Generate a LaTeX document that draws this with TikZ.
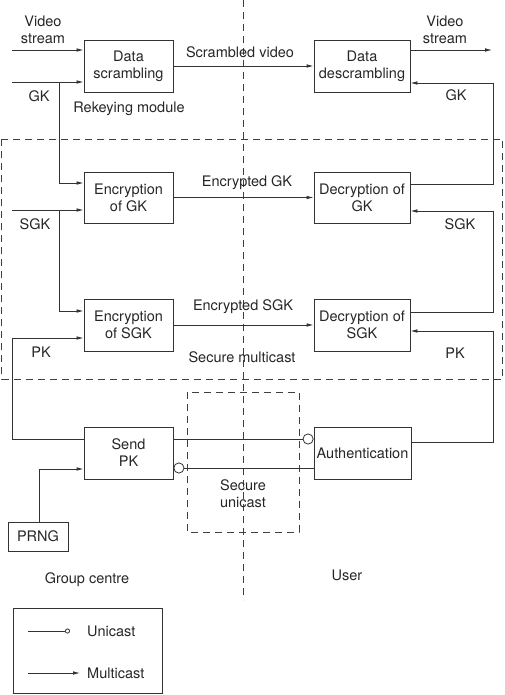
\documentclass[tikz,border=0pt]{standalone}
\usepackage{fontspec}
\setmainfont{TeX Gyre Heros}
\usetikzlibrary{arrows.meta,calc}
\begin{document}
\begin{tikzpicture}[x=1pt,y=-1pt,
  font=\fontsize{14.5}{17}\selectfont,
  every node/.style={text=black!85},
  blk/.style={draw=black!80, line width=0.8pt, inner sep=0pt, align=center, minimum height=52pt},
  lbl/.style={inner sep=0pt, align=center},
  ln/.style={draw=black!80, line width=0.8pt},
  arr/.style={ln, -{Latex[length=7pt,width=3.6pt]}},
  uni/.style={ln, -{Circle[open,length=11pt]}},
  smalluni/.style={ln, -{Circle[open,length=5pt]}},
  dsh/.style={draw=black!75, line width=0.8pt, dash pattern=on 7pt off 5pt}]
\useasboundingbox (0,0) rectangle (504,695);

% dashed regions
\draw[dsh] (243,0) -- (243,600);
\draw[dsh] (1.5,139) rectangle (502.5,379);
\draw[dsh] (187,392) rectangle (299,532);

% boxes
\node[blk, minimum width=89pt] (ds) at (128.5,66) {Data\\scrambling};
\node[blk, minimum width=96pt] (dd) at (362,66) {Data\\descrambling};
\node[blk, minimum width=89pt, minimum height=51pt] (eg) at (128.5,197.5) {Encryption\\of GK};
\node[blk, minimum width=96pt, minimum height=51pt] (dg) at (362,197.5) {Decryption of\\GK};
\node[blk, minimum width=89pt] (es) at (128.5,325) {Encryption\\of SGK};
\node[blk, minimum width=96pt] (dsg) at (362,325) {Decryption of\\SGK};
\node[blk, minimum width=89pt] (sp) at (128.5,453) {Send\\PK};
\node[blk, minimum width=97pt] (au) at (362.5,453) {Authentication};
\node[blk, minimum width=60pt, minimum height=29pt] (prng) at (38,536.5) {PRNG};

% free ends
\coordinate (vin) at (12,50);
\coordinate (gkin) at (12,82);
\coordinate (sgkin) at (12,210);
\coordinate (vout) at (492,50);

% left inputs
\draw[arr] (vin) -- ([yshift=16pt]ds.west);
\draw[arr] (gkin) -- ([yshift=-16pt]ds.west);
\draw[arr] (59,82) -- (59,183) -- ([yshift=14.5pt]eg.west);
\draw[arr] (sgkin) -- ([yshift=-12.5pt]eg.west);
\draw[arr] (59,210) -- (59,311) -- ([yshift=14pt]es.west);
\draw[arr] ([yshift=14pt]sp.west) -- (12,439) -- (12,338) -- ([yshift=-13pt]es.west);
\draw[arr] ([xshift=1pt]prng.north) -- (39,469) -- ([yshift=-16pt]sp.west);

% middle
\draw[arr] (ds.east) -- (dd.west);
\draw[arr] (eg.east) -- (dg.west);
\draw[arr] (es.east) -- (dsg.west);

% right side
\draw[arr] ([yshift=16pt]dd.east) -- (vout);
\draw[arr] ([yshift=13.5pt]dg.east) -- (493,184) -- (493,83) -- ([yshift=-17pt]dd.east);
\draw[arr] ([yshift=13pt]dsg.east) -- (493,312) -- (493,211) -- ([yshift=-13.5pt]dg.east);
\draw[arr] ([yshift=11pt]au.east) -- (493,442) -- (493,331) -- ([yshift=-6pt]dsg.east);

% unicast
\draw[uni] ([yshift=14pt]sp.east) -- ([yshift=14pt]au.west);
\draw[uni] ([yshift=-15pt]au.west) -- ([yshift=-15pt]sp.east);

% labels
\node[lbl] (l1) at (43,29.5) {Video\\stream};
\node[lbl] (l2) at (39,96) {GK};
\node[lbl] (l3) at (35,224) {SGK};
\node[lbl] (l4) at (41,352) {PK};
\node[lbl] (l5) at (445,29.5) {Video\\stream};
\node[lbl] (l6) at (456,95) {GK};
\node[lbl] (l7) at (460,224) {SGK};
\node[lbl] (l8) at (455,353) {PK};
\node[lbl] (l9) at (240,52) {Scrambled video};
\node[lbl] (l10) at (247,183) {Encrypted GK};
\node[lbl] (l11) at (243,307) {Encrypted SGK};
\node[lbl] (l12) at (242,357) {Secure multicast};
\node[lbl] (l13) at (129,109) {Rekeying module};
\node[lbl] (l14) at (243,493.5) {Secure\\unicast};
\node[lbl] (l15) at (87,580) {Group centre};
\node[lbl] (l16) at (347,575) {User};

% legend
\draw[ln] (13,608) rectangle (162,693);
\coordinate (lu1) at (28,631);
\coordinate (lu2) at (70,631);
\coordinate (lm1) at (28,673);
\coordinate (lm2) at (80,673);
\draw[smalluni] (lu1) -- (lu2);
\draw[arr] (lm1) -- (lm2);
\node[lbl, anchor=west] (lg1) at (87,631) {Unicast};
\node[lbl, anchor=west] (lg2) at (87,673) {Multicast};
\end{tikzpicture}
\end{document}
